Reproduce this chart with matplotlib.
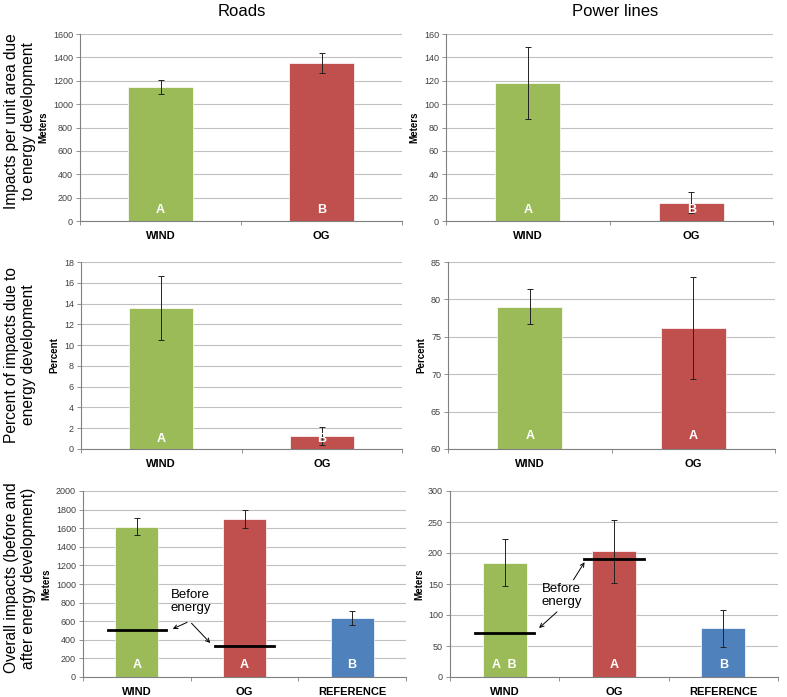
import matplotlib.pyplot as plt
import numpy as np

plt.rcParams['font.family'] = ['Liberation Sans', 'DejaVu Sans']

# colours of the three groups
GREEN = "#9BBB59"
RED = "#C0504D"
BLUE = "#4F81BD"

cats2 = ["WIND", "OG"]
cats3 = ["WIND", "OG", "REFERENCE"]

# row 1: impacts per unit area
roads_area = [1146, 1352]
roads_area_err = [58, 87]
roads_area_let = ["A", "B"]
power_area = [118.3, 15.7]
power_area_err = [31, 9]
power_area_let = ["A", "B"]

# row 2: percent due to energy development
roads_pct = [13.57, 1.25]
roads_pct_err = [3.08, 0.9]
roads_pct_let = ["A", "B"]
power_pct = [79.03, 76.2]
power_pct_err = [2.36, 6.8]
power_pct_let = ["A", "A"]

# row 3: overall impacts
roads_all = [1618, 1700, 632]
roads_all_err = [88, 97, 78]
roads_all_let = ["A", "A", "B"]
roads_before = [504, 336]
power_all = [184.3, 203, 78.8]
power_all_err = [37.5, 51, 30]
power_all_let = ["A  B", "A", "B"]
power_before = [70.2, 190.2]

row_labels = ["Impacts per unit area due\nto energy development",
              "Percent of impacts due to\nenergy development",
              "Overall impacts (before and\nafter energy development)"]

W, H = 787, 697
fig = plt.figure(figsize=(W / 100, H / 100), dpi=100)


def px_axes(x0, x1, ytop, ybot):
    return fig.add_axes([x0 / W, 1 - ybot / H, (x1 - x0) / W, (ybot - ytop) / H])


def panel(ax, cats, vals, errs, letters, colors, ylim, step, ylabel, letter_y):
    x = np.arange(len(cats))
    ax.set_axisbelow(True)
    ax.yaxis.grid(True, color="#C0C0C0", lw=0.8)
    ax.bar(x, np.array(vals) - ylim[0], bottom=ylim[0], width=0.4, color=colors,
           edgecolor="white", linewidth=0.5, zorder=2)
    ax.errorbar(x, vals, yerr=errs, fmt="none", ecolor="#222222", elinewidth=0.7,
                capsize=2, capthick=0.7, zorder=3)
    for xi, t in zip(x, letters):
        ax.text(xi, letter_y, t, color="white", ha="center", va="center",
                fontsize=9, fontweight="bold", zorder=4)
    ax.set_xlim(-0.5, len(cats) - 0.5)
    ax.set_ylim(*ylim)
    ax.set_yticks(np.arange(ylim[0], ylim[1] + step / 2, step))
    ax.tick_params(axis="y", labelsize=6.5, colors="#404040", length=3, width=0.6,
                   color="#808080", pad=2)
    ax.set_xticks(x)
    ax.set_xticklabels(cats, fontsize=8, fontweight="bold")
    ax.tick_params(axis="x", length=0, pad=7)
    ax.set_xticks(np.arange(-0.5, len(cats), 1), minor=True)
    ax.tick_params(axis="x", which="minor", length=3, width=0.6, color="#808080")
    ax.set_ylabel(ylabel, fontsize=7, fontweight="bold", labelpad=3)
    for s in ["top", "right"]:
        ax.spines[s].set_visible(False)
    for s in ["left", "bottom"]:
        ax.spines[s].set_color("#808080")
        ax.spines[s].set_linewidth(0.8)


def before_lines(ax, vals):
    for xi, v in enumerate(vals):
        ax.plot([xi - 0.27, xi + 0.27], [v, v], color="black", lw=2, zorder=5)


# row 1
ax = px_axes(80, 402, 34, 221)
panel(ax, cats2, roads_area, roads_area_err, roads_area_let, [GREEN, RED],
      (0, 1600), 200, "Meters", 95)
ax = px_axes(446, 773, 34, 221)
panel(ax, cats2, power_area, power_area_err, power_area_let, [GREEN, RED],
      (0, 160), 20, "Meters", 9.5)

# row 2
ax = px_axes(81, 402, 262, 449)
panel(ax, cats2, roads_pct, roads_pct_err, roads_pct_let, [GREEN, RED],
      (0, 18), 2, "Percent", 1.0)
ax = px_axes(448, 775, 262, 449)
panel(ax, cats2, power_pct, power_pct_err, power_pct_let, [GREEN, RED],
      (60, 85), 5, "Percent", 61.7)

# row 3
ax = px_axes(83, 406, 491, 677)
panel(ax, cats3, roads_all, roads_all_err, roads_all_let, [GREEN, RED, BLUE],
      (0, 2000), 200, "Meters", 130)
before_lines(ax, roads_before)
ax.text(0.5, 815, "Before\nenergy", ha="center", va="center", fontsize=9.5,
        linespacing=1.1, zorder=6)
for end in [(0.31, 505), (0.70, 344)]:
    ax.annotate("", xy=end, xytext=(0.49, 600),
                arrowprops=dict(arrowstyle="->", color="black", lw=0.7,
                                mutation_scale=7), zorder=6)

ax = px_axes(450, 778, 491, 677)
panel(ax, cats3, power_all, power_all_err, power_all_let, [GREEN, RED, BLUE],
      (0, 300), 50, "Meters", 20)
before_lines(ax, power_before)
ax.text(0.52, 132, "Before\nenergy", ha="center", va="center", fontsize=9.5,
        linespacing=1.1, zorder=6)
ax.annotate("", xy=(0.744, 189), xytext=(0.616, 153),
            arrowprops=dict(arrowstyle="->", color="black", lw=0.7,
                            mutation_scale=7), zorder=6)
ax.annotate("", xy=(0.296, 76), xytext=(0.497, 108),
            arrowprops=dict(arrowstyle="->", color="black", lw=0.7,
                            mutation_scale=7), zorder=6)

# column titles and row labels
fig.text(242 / W, 1 - 11 / H, "Roads", ha="center", va="center", fontsize=12)
fig.text(615 / W, 1 - 11 / H, "Power lines", ha="center", va="center", fontsize=12)
for yc, lab in zip([121, 355, 578], row_labels):
    fig.text(20 / W, 1 - yc / H, lab, ha="center", va="center", rotation=90,
             fontsize=11.2, linespacing=1.15)

fig.savefig("out.png", dpi=100)
